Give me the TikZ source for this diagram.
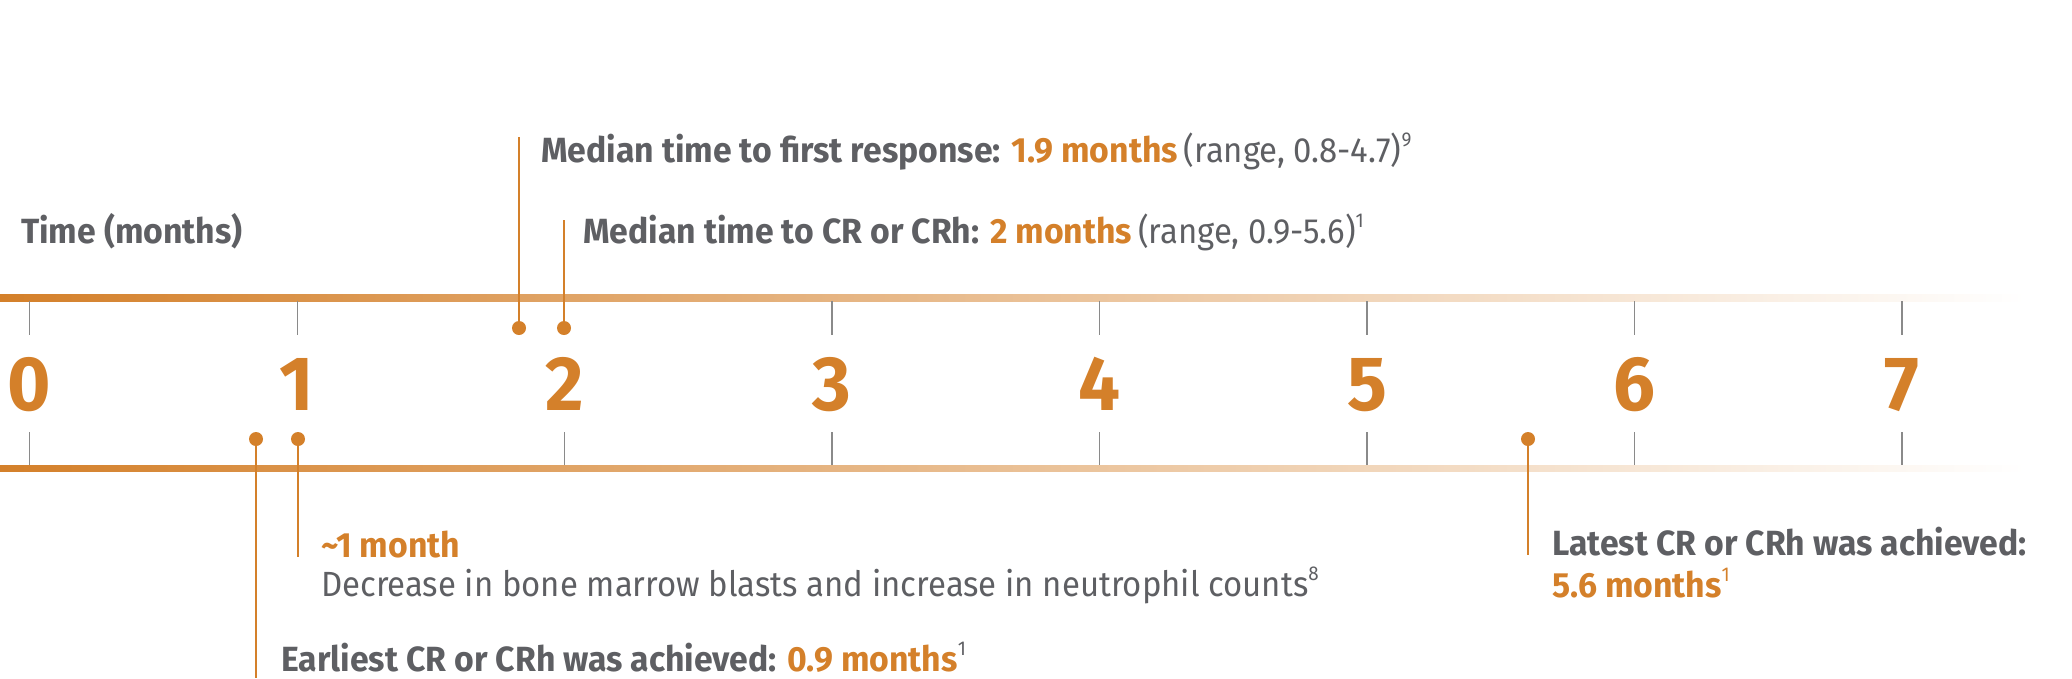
\documentclass[tikz,border=0pt]{standalone}
\usepackage{fontspec}
\setmainfont{Fira Sans}[FakeStretch=0.94, BoldFeatures={FakeStretch=0.965}]
\definecolor{org}{HTML}{D4802A}
\definecolor{txt}{HTML}{5E5F63}
\definecolor{tickc}{HTML}{8A8A8A}
\newcommand{\supx}[1]{\raisebox{0.45em}{\fontsize{20}{20}\selectfont\mdseries #1}}
\tikzset{
  lbl/.style={anchor=base west, inner sep=0pt, text=txt, font=\fontsize{35}{42}\selectfont},
  num/.style={anchor=base, inner sep=0pt, text=org, font=\fontsize{77}{80}\selectfont\bfseries},
  dotm/.style={circle, fill=org, minimum size=14pt, inner sep=0pt},
  lead/.style={draw=org, line width=1.5pt},
  tk/.style={draw=tickc, line width=1.3pt},
}
\begin{document}
\begin{tikzpicture}[x=1pt,y=-1pt]
\useasboundingbox (0,0) rectangle (2072,678);
% bands
\shade[left color=org, middle color=org!55!white, right color=white] (0,294.5) rectangle (2025,301);
\shade[left color=org, middle color=org!55!white, right color=white] (0,465) rectangle (2025,471.5);
% ticks and numbers
\foreach \k in {0,...,7}{
  \pgfmathsetmacro{\xx}{29.7+\k*267.47}
  \draw[tk] (\xx,301) -- (\xx,335);
  \draw[tk] (\xx,432) -- (\xx,465);
  \node[num] (n\k) at (\xx,410) {\k};
}
% title
\node[lbl, font=\fontsize{35}{42}\selectfont\bfseries] (title) at (21,243) {Time (months)};
% top annotations
\node[dotm] (d19) at (519,328) {};
\node[dotm] (d2) at (564,328) {};
\coordinate (c19) at (519,137);
\coordinate (c2) at (564,220);
\draw[lead] (d19.center) -- (c19);
\draw[lead] (d2.center) -- (c2);
\node[lbl] (a19) at (541,162) {\textbf{Median time to first response: \textcolor{org}{1.9 months}}\,(range, 0.8-4.7)\supx{9}};
\node[lbl] (a2) at (583,243) {\textbf{Median time to CR or CRh: \textcolor{org}{2 months}}\,(range, 0.9-5.6)\supx{1}};
% bottom annotations
\node[dotm] (d09) at (256,439) {};
\node[dotm] (d1) at (298,439) {};
\node[dotm] (d56) at (1528,439) {};
\coordinate (c09) at (256,678);
\coordinate (c1) at (298,557);
\coordinate (c56) at (1528,555);
\draw[lead] (d09.center) -- (c09);
\draw[lead] (d1.center) -- (c1);
\draw[lead] (d56.center) -- (c56);
\node[lbl, text=org, font=\fontsize{35}{42}\selectfont\bfseries] (a1) at (321,557) {\textasciitilde1 month};
\node[lbl] (a1b) at (321,596) {Decrease in bone marrow blasts and increase in neutrophil counts\supx{8}};
\node[lbl] (a09) at (281,671) {\textbf{Earliest CR or CRh was achieved: \textcolor{org}{0.9 months}}\supx{1}};
\node[lbl, font=\fontsize{35}{42}\selectfont\bfseries] (a56) at (1552,555) {Latest CR or CRh was achieved:};
\node[lbl, text=org, font=\fontsize{35}{42}\selectfont\bfseries] (a56b) at (1552,597) {5.6 months\supx{1}};
\end{tikzpicture}
\end{document}
